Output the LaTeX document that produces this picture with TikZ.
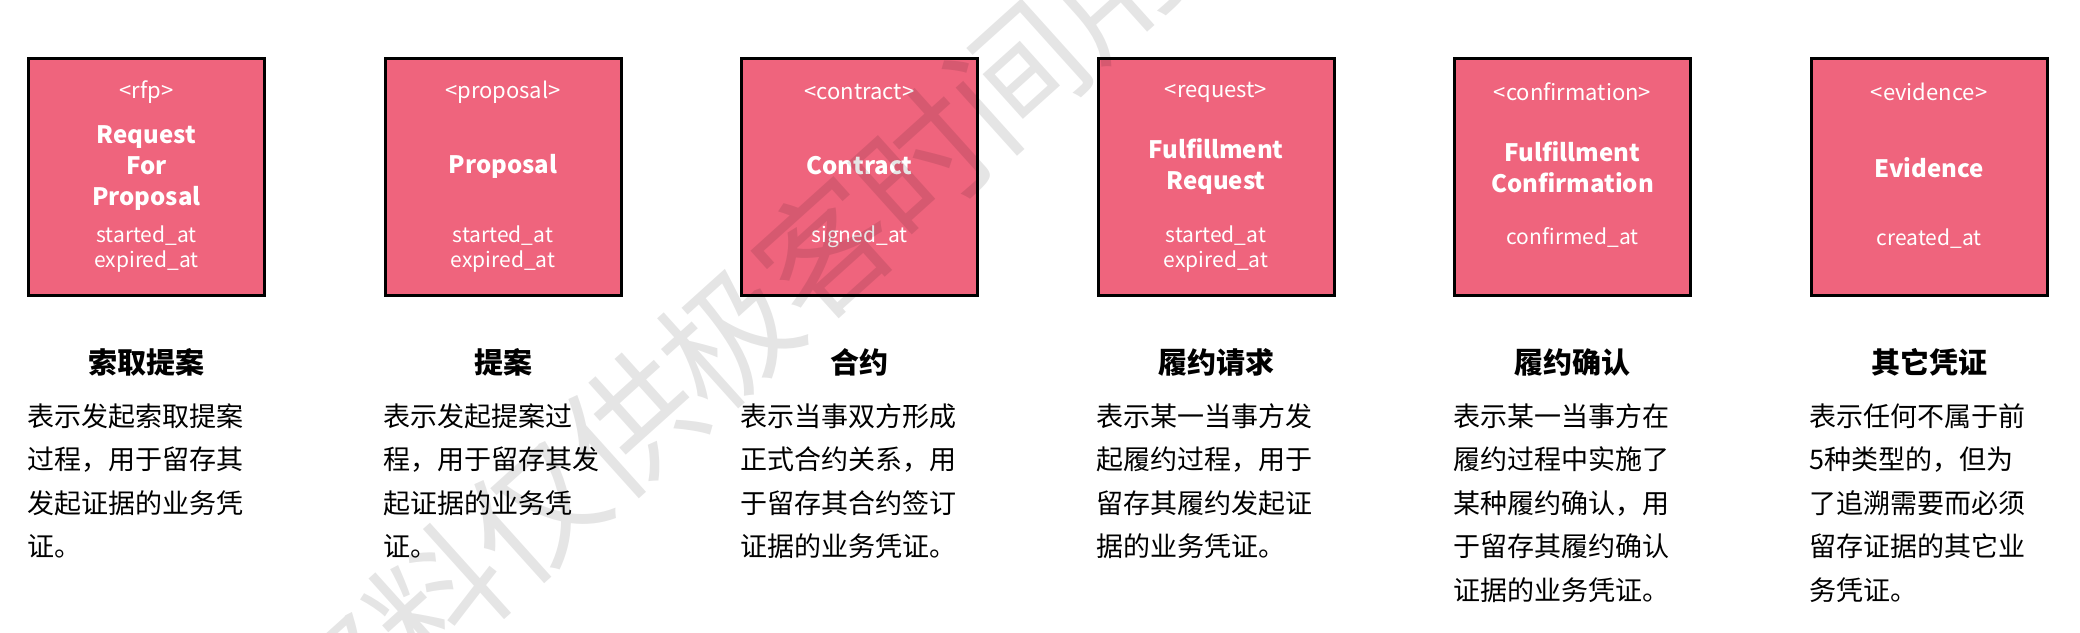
\documentclass[tikz,border=0pt]{standalone}
\usepackage{fontspec}
\setmainfont{Noto Sans CJK SC}
\definecolor{evpink}{RGB}{239,100,125}

\begin{document}
\begin{tikzpicture}[x=0.5pt,y=-0.5pt,
  evbox/.style={draw=black,line width=1.5pt,fill=evpink,minimum width=118pt,minimum height=118.5pt,inner sep=0pt},
  tagtext/.style={text=white,font=\fontsize{11}{13}\selectfont},
  nametext/.style={text=white,align=center,font=\bfseries\fontsize{12}{15.5}\selectfont},
  attrtext/.style={text=white,align=center,font=\fontsize{10.5}{12.5}\selectfont},
  kindtitle/.style={font=\bfseries\fontsize{14.5}{18}\selectfont},
  kinddesc/.style={anchor=north west,inner sep=0pt,align=left,font=\fontsize{13.5}{21.75}\selectfont},
  watermark/.style={rotate=42,text=black,text opacity=0.1,font=\fontsize{66}{66}\selectfont}]

\clip (0,0) rectangle (2080,632);

% --- record boxes, one per evidence kind ---
\foreach \n [count=\i from 0] in {rfp,proposal,contract,request,confirm,evidence}
  \node[evbox] (\n) at ({146.5+\i*356.5},177) {};

% --- text inside the boxes ---
\node[tagtext] (rfp-tag) at (146.5,92) {<rfp>};
\node[nametext] (rfp-name) at (146.5,168) {Request\\For\\Proposal};
\node[attrtext] (rfp-attr) at (146.5,249.5) {started\_at\\expired\_at};

\node[tagtext] (proposal-tag) at (503,92) {<proposal>};
\node[nametext] (proposal-name) at (503,166) {Proposal};
\node[attrtext] (proposal-attr) at (503,249.5) {started\_at\\expired\_at};

\node[tagtext] (contract-tag) at (859.5,92) {<contract>};
\node[nametext] (contract-name) at (859.5,166) {Contract};
\node[attrtext] (contract-attr) at (859.5,237) {signed\_at};

\node[tagtext] (request-tag) at (1216,92) {<request>};
\node[nametext] (request-name) at (1216,167) {Fulfillment\\Request};
\node[attrtext] (request-attr) at (1216,249.5) {started\_at\\expired\_at};

\node[tagtext] (confirm-tag) at (1572.5,92) {<confirmation>};
\node[nametext] (confirm-name) at (1572.5,167) {Fulfillment\\Confirmation};
\node[attrtext] (confirm-attr) at (1572.5,237) {confirmed\_at};

\node[tagtext] (evidence-tag) at (1929,92) {<evidence>};
\node[nametext] (evidence-name) at (1929,168) {Evidence};
\node[attrtext] (evidence-attr) at (1929,239) {created\_at};

% --- titles and descriptions below the boxes ---
\node[kindtitle] (rfp-title) at (146.5,362) {索取提案};
\node[kinddesc] (rfp-desc) at (27,403)
  {表示发起索取提案\\过程，用于留存其\\发起证据的业务凭\\证。};

\node[kindtitle] (proposal-title) at (503,362) {提案};
\node[kinddesc] (proposal-desc) at (383.5,403)
  {表示发起提案过\\程，用于留存其发\\起证据的业务凭\\证。};

\node[kindtitle] (contract-title) at (859.5,362) {合约};
\node[kinddesc] (contract-desc) at (740,403)
  {表示当事双方形成\\正式合约关系，用\\于留存其合约签订\\证据的业务凭证。};

\node[kindtitle] (request-title) at (1216,362) {履约请求};
\node[kinddesc] (request-desc) at (1096.5,403)
  {表示某一当事方发\\起履约过程，用于\\留存其履约发起证\\据的业务凭证。};

\node[kindtitle] (confirm-title) at (1572.5,362) {履约确认};
\node[kinddesc] (confirm-desc) at (1453,403)
  {表示某一当事方在\\履约过程中实施了\\某种履约确认，用\\于留存其履约确认\\证据的业务凭证。};

\node[kindtitle] (evidence-title) at (1929,362) {其它凭证};
\node[kinddesc] (evidence-desc) at (1809.5,403)
  {表示任何不属于前\\5种类型的，但为\\了追溯需要而必须\\留存证据的其它业\\务凭证。};

% --- diagonal watermark ---
\foreach \ch [count=\i from 0] in {资,料,仅,供,极,客,时,间,用,户}
  \node[watermark] (wm\i) at ({341.8+\i*96.6},{685-\i*87}) {\ch};
\end{tikzpicture}
\end{document}
